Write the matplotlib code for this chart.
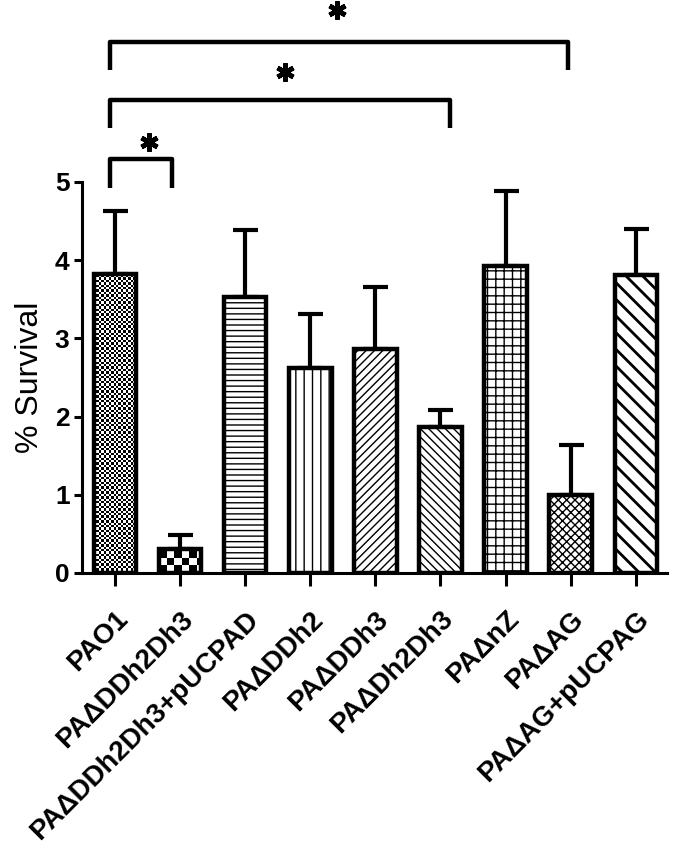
import numpy as np
import matplotlib
matplotlib.use("Agg")
import matplotlib.pyplot as plt

plt.rcParams['font.family'] = ['Liberation Sans', 'DejaVu Sans']
plt.rcParams['hatch.linewidth'] = 1.0

# data
strains = ["PAO1", "PAΔDDh2Dh3", "PAΔDDh2Dh3+pUCPAD", "PAΔDDh2", "PAΔDDh3",
           "PAΔDh2Dh3", "PAΔnZ", "PAΔAG", "PAΔAG+pUCPAG"]
survival = [3.82, 0.31, 3.53, 2.62, 2.87, 1.87, 3.92, 1.00, 3.81]
sem = [0.81, 0.18, 0.85, 0.69, 0.79, 0.21, 0.96, 0.64, 0.59]
# None -> checkerboard fill with that square size in pixels
hatches = [None, None, "---", "||", "////", "\\\\\\\\", "++", "xxxx", "\\\\"]
checker_px = [2.4, 7.5, 0, 0, 0, 0, 0, 0, 0]

# significance brackets: x left, x right, bracket top, leg bottom
bracket_left = [-0.08, -0.08, -0.08]
bracket_right = [0.88, 5.15, 6.96]
bracket_top = [5.29, 6.05, 6.79]
bracket_bottom = [4.92, 5.69, 6.43]
star_x = [0.52, 2.61, 3.41]
star_y = [5.51, 6.41, 7.20]
ticks_y = [0, 1, 2, 3, 4, 5]

fig = plt.figure(figsize=(6.75, 8.52), dpi=100)
ax = fig.add_axes([0.1215, 0.3275, 0.8665, 0.4589])
ax.set_xlim(-0.51, 8.48)
ax.set_ylim(0, 5)

x = np.arange(len(strains))
bars = ax.bar(x, survival, width=0.65, color="white", edgecolor="black",
              linewidth=3.2, zorder=3)

for i, b in enumerate(bars):
    if hatches[i] is not None:
        b.set_hatch(hatches[i])
        if i == 8:
            try:
                b.set_hatch_linewidth(2.0)
            except AttributeError:
                pass
        continue
    # checkerboard drawn as image clipped to the bar
    b.set_facecolor("none")
    ext = b.get_window_extent(renderer=fig.canvas.get_renderer())
    nx = max(1, int(round(ext.width / checker_px[i])))
    ny = max(1, int(round(ext.height / checker_px[i])))
    board = (np.indices((ny, nx)).sum(axis=0) % 2).astype(float)
    x0, y0 = b.get_x(), b.get_y()
    img = ax.imshow(board, cmap="gray", vmin=0, vmax=1, interpolation="nearest",
                    extent=[x0, x0 + nx * checker_px[i] * (b.get_width() / ext.width),
                            y0, y0 + ny * checker_px[i] * (b.get_height() / ext.height)],
                    origin="lower", aspect="auto", zorder=2.5)
    img.set_clip_path(b)

ax.set_xlim(-0.51, 8.48)
ax.set_ylim(0, 5)

ax.errorbar(x, survival, yerr=[np.zeros(len(sem)), sem], fmt="none",
            ecolor="black", elinewidth=3.0, capsize=9, capthick=3.0, zorder=2)

for k in range(len(bracket_left)):
    ax.plot([bracket_left[k], bracket_left[k], bracket_right[k], bracket_right[k]],
            [bracket_bottom[k], bracket_top[k], bracket_top[k], bracket_bottom[k]],
            color="black", lw=3.2, solid_joinstyle="round", solid_capstyle="butt",
            clip_on=False)
ax.plot(star_x, star_y, ls="none", marker=(6, 2, 0), ms=13, mew=3.4,
        color="black", clip_on=False)

ax.set_yticks(ticks_y)
ax.set_xticks(x)
ax.set_xticklabels(strains, rotation=45, ha="right", va="top",
                   rotation_mode="anchor", fontsize=20, fontweight="bold")
for lbl in ax.get_yticklabels():
    lbl.set_fontsize(19)
    lbl.set_fontweight("bold")
ax.set_ylabel("% Survival", fontsize=23, labelpad=7)

ax.spines["top"].set_visible(False)
ax.spines["right"].set_visible(False)
ax.spines["left"].set_linewidth(2.2)
ax.spines["bottom"].set_linewidth(2.2)
ax.tick_params(axis="y", length=6, width=2.2, pad=3)
ax.tick_params(axis="x", length=9, width=2.2, pad=15)

fig.savefig("out.png", dpi=100)
